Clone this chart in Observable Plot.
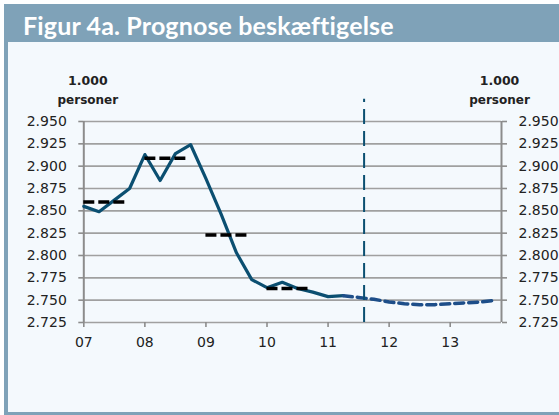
<!DOCTYPE html>
<html><head><meta charset="utf-8">
<script src="https://cdn.jsdelivr.net/npm/d3@7"></script>
<script src="https://cdn.jsdelivr.net/npm/@observablehq/plot@0.6"></script>
<style>
html,body{margin:0;padding:0;background:#fff;}
#wrap{position:relative;width:559px;height:415px;overflow:hidden;}
#title{position:absolute;left:4px;top:4px;width:555px;height:38px;background:#7fa2b8;color:#fff;font-family:Lato,sans-serif;font-weight:700;font-size:25px;letter-spacing:0.15px;line-height:38px;padding-left:19px;padding-top:2px;box-sizing:border-box;white-space:nowrap;overflow:hidden;}
#panel{position:absolute;left:4px;top:42px;width:555px;height:373px;background:#f4f9fd;border-left:4px solid #7fa2b8;border-bottom:3px solid #7fa2b8;box-sizing:border-box;}
#chart{position:absolute;left:0;top:44px;}
</style></head><body>
<div id="wrap">
<div id="title">Figur 4a. Prognose beskæftigelse</div>
<div id="panel"></div>
<div id="chart"></div>
</div>
<script>
// Faktisk beskæftigelse, kvartaler (1.000 personer)
const actualQuarters = ["2007K1","2007K2","2007K3","2007K4","2008K1","2008K2","2008K3","2008K4","2009K1","2009K2","2009K3","2009K4","2010K1","2010K2","2010K3","2010K4","2011K1","2011K2"];
const actualValues   = [2855,2849,2862,2875,2913,2884,2914,2924,2886,2846,2803,2773,2764,2770,2763,2759,2754,2755];
// Prognose
const projQuarters = ["2011K2","2011K3","2011K4","2012K1","2012K2","2012K3","2012K4","2013K1","2013K2","2013K3","2013K4"];
const projValues   = [2755,2753,2751,2748,2746,2745,2745,2746,2747,2748,2750];
// Årsgennemsnit
const avgYears  = [2007,2008,2009,2010];
const avgValues = [2860,2909,2823,2763];
// Akser
const yTicks = [2725,2750,2775,2800,2825,2850,2875,2900,2925,2950];
const xTickYears = [2007,2008,2009,2010,2011,2012,2013];
const xTickLabels = ["07","08","09","10","11","12","13"];
const xDomain = [2007, 2013.84];
const yDomain = [2725, 2950];
const forecastStart = 2011.59;
const forecastTop = 2975;

const qToNum = s => +s.slice(0,4) + (+s.slice(5) - 1) / 4;
const actual = actualQuarters.map((q,i) => ({x: qToNum(q), y: actualValues[i]}));
const proj = projQuarters.map((q,i) => ({x: qToNum(q), y: projValues[i]}));
const avg = avgYears.map((yr,i) => ({x1: yr, x2: yr + 0.68, y: avgValues[i]}));
const fmt = d3.formatLocale({decimal:",", thousands:".", grouping:[3], currency:["",""]}).format(",d");

const font = "DejaVu Sans, sans-serif";
const chart = Plot.plot({
  width: 559, height: 368,
  marginLeft: 83.3, marginRight: 58, marginTop: 77, marginBottom: 90,
  x: {domain: xDomain},
  y: {domain: yDomain},
  style: {background: "transparent", fontFamily: font, fontSize: "14px", color: "#222", overflow: "visible"},
  marks: [
    Plot.ruleY(yTicks, {stroke: "#a0a0a0", strokeWidth: 1.6}),
    Plot.ruleX(xDomain, {stroke: "#8c8c8c", strokeWidth: 2}),
    Plot.axisY({anchor: "left", ticks: yTicks, tickFormat: fmt, tickSize: 5, tickPadding: 12, stroke: "#8c8c8c", strokeWidth: 1.6, fill: "#222", fontSize: 14, label: null}),
    Plot.axisY({anchor: "right", ticks: yTicks, tickFormat: fmt, tickSize: 5, tickPadding: 12, stroke: "#8c8c8c", strokeWidth: 1.6, fill: "#222", fontSize: 14, label: null}),
    Plot.axisX({ticks: xTickYears, tickFormat: (d) => xTickLabels[xTickYears.indexOf(d)], tickSize: 5, tickPadding: 10, stroke: "#8c8c8c", strokeWidth: 1.6, fill: "#222", fontSize: 14, label: null}),
    Plot.line(actual, {x: "x", y: "y", stroke: "#0b4f71", strokeWidth: 3.2, strokeLinejoin: "round"}),
    Plot.line(proj, {x: "x", y: "y", stroke: "#1d4e89", strokeWidth: 3.5, strokeDasharray: "9,5"}),
    Plot.ruleY(avg, {x1: "x1", x2: "x2", y: "y", stroke: "#000", strokeWidth: 3.5, strokeDasharray: "11,4"}),
    Plot.ruleX([forecastStart], {y1: yDomain[0], y2: forecastTop, stroke: "#0b4f71", strokeWidth: 2, strokeDasharray: "15,7"}),
    Plot.text(["1.000"], {frameAnchor: "top-left", textAnchor: "middle", dx: 4, dy: -45, fontWeight: "bold", fontSize: 12.5, fill: "#222"}),
    Plot.text(["personer"], {frameAnchor: "top-left", textAnchor: "middle", dx: 4, dy: -26, fontWeight: "bold", fontSize: 12, fill: "#222"}),
    Plot.text(["1.000"], {frameAnchor: "top-right", textAnchor: "middle", dx: -2, dy: -45, fontWeight: "bold", fontSize: 12.5, fill: "#222"}),
    Plot.text(["personer"], {frameAnchor: "top-right", textAnchor: "middle", dx: -2, dy: -26, fontWeight: "bold", fontSize: 12, fill: "#222"})
  ]
});
document.getElementById("chart").appendChild(chart);
</script>
</body></html>
